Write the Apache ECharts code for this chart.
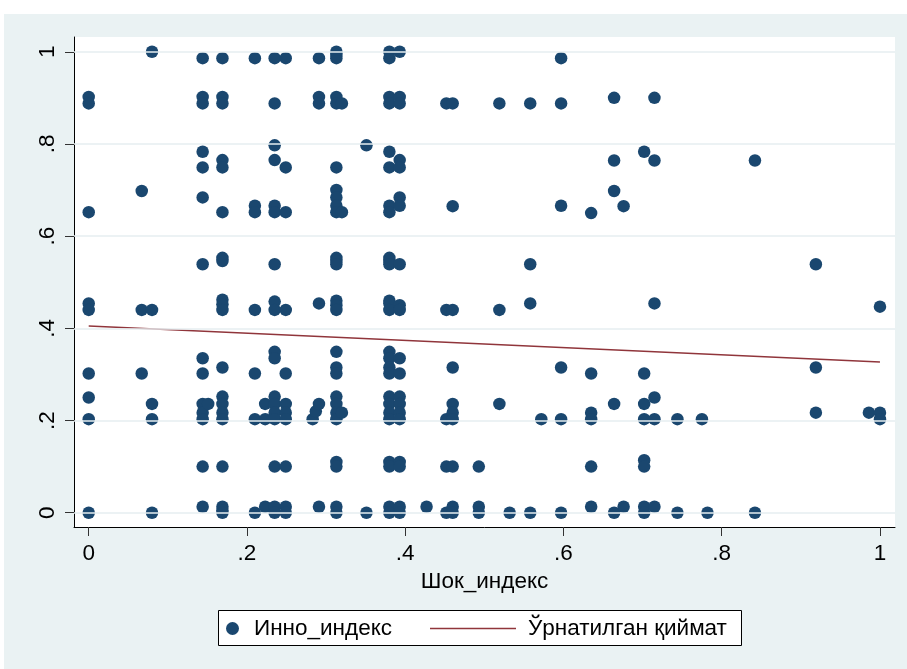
<!DOCTYPE html>
<html><head><meta charset="utf-8">
<script src="https://cdn.jsdelivr.net/npm/echarts@6/dist/echarts.min.js"></script>
<style>html,body{margin:0;padding:0;background:#fff}#c{width:907px;height:669px}</style>
</head><body><div id="c"></div>
<script>
// Шок_индекс column positions and the Инно_индекс values observed at each
const shockCols = [0, 0.067, 0.08, 0.144, 0.151, 0.169, 0.21, 0.223, 0.235, 0.249,
  0.283, 0.287, 0.291, 0.313, 0.32, 0.351, 0.38, 0.393, 0.427, 0.452, 0.46, 0.493,
  0.519, 0.532, 0.558, 0.572, 0.597, 0.635, 0.664, 0.676, 0.702, 0.715, 0.744,
  0.775, 0.782, 0.842, 0.919, 0.986, 1.0];
const innoByCol = [
  [0.902, 0.888, 0.652, 0.454, 0.44, 0.302, 0.25, 0.203, 0],
  [0.698, 0.44, 0.302],
  [1.0, 0.44, 0.236, 0.203, 0],
  [0.986, 0.902, 0.888, 0.783, 0.749, 0.684, 0.539, 0.335, 0.302, 0.236, 0.217, 0.203, 0.1, 0.013],
  [0.236],
  [0.986, 0.902, 0.888, 0.765, 0.749, 0.652, 0.553, 0.546, 0.462, 0.452, 0.44, 0.315, 0.252, 0.236, 0.217, 0.203, 0.1, 0.013, 0.005, 0],
  [0.986, 0.666, 0.652, 0.44, 0.302, 0.203, 0],
  [0.236, 0.203, 0.013],
  [0.986, 0.888, 0.797, 0.765, 0.666, 0.652, 0.539, 0.458, 0.44, 0.349, 0.335, 0.252, 0.236, 0.217, 0.203, 0.1, 0.013, 0],
  [0.986, 0.749, 0.652, 0.44, 0.302, 0.236, 0.217, 0.203, 0.1, 0.013, 0],
  [0.203],
  [0.22],
  [0.986, 0.902, 0.888, 0.454, 0.236, 0.013],
  [1.0, 0.993, 0.986, 0.902, 0.888, 0.749, 0.7, 0.684, 0.666, 0.652, 0.553, 0.546, 0.539, 0.46, 0.45, 0.44, 0.349, 0.315, 0.302, 0.252, 0.236, 0.217, 0.203, 0.11, 0.1, 0.013, 0],
  [0.888, 0.652, 0.217],
  [0.797, 0],
  [1.0, 0.986, 0.902, 0.888, 0.783, 0.749, 0.666, 0.652, 0.553, 0.546, 0.539, 0.46, 0.454, 0.44, 0.349, 0.335, 0.315, 0.302, 0.252, 0.236, 0.217, 0.203, 0.11, 0.1, 0.013, 0],
  [1.0, 0.902, 0.888, 0.765, 0.749, 0.684, 0.666, 0.539, 0.45, 0.44, 0.335, 0.302, 0.252, 0.236, 0.217, 0.203, 0.11, 0.1, 0.013, 0],
  [0.013],
  [0.888, 0.44, 0.203, 0.1, 0],
  [0.888, 0.665, 0.44, 0.315, 0.236, 0.217, 0.203, 0.1, 0.013, 0],
  [0.1, 0.013, 0],
  [0.888, 0.44, 0.236],
  [0],
  [0.888, 0.539, 0.454, 0],
  [0.203],
  [0.986, 0.888, 0.666, 0.315, 0.203, 0],
  [0.65, 0.302, 0.217, 0.203, 0.1, 0.013],
  [0.9, 0.764, 0.698, 0.236, 0],
  [0.665, 0.013],
  [0.783, 0.302, 0.236, 0.203, 0.114, 0.1, 0.013, 0],
  [0.9, 0.764, 0.454, 0.25, 0.203, 0.013],
  [0.203, 0],
  [0.203],
  [0],
  [0.764, 0],
  [0.539, 0.315, 0.217],
  [0.217],
  [0.447, 0.217, 0.203]
];
// fitted line end points
const fitX = [0, 1];
const fitY = [0.405, 0.327];
// axis ticks
const xTicks = [0, 0.2, 0.4, 0.6, 0.8, 1];
const xTickLabels = ['0', '.2', '.4', '.6', '.8', '1'];
const yTicks = [0, 0.2, 0.4, 0.6, 0.8, 1];
const yTickLabels = ['0', '.2', '.4', '.6', '.8', '1'];
const seriesNames = ['Инно_индекс', 'Ўрнатилган қиймат'];
const xTitle = 'Шок_индекс';

const points = [];
shockCols.forEach((x, i) => innoByCol[i].forEach(y => points.push([x, y])));
const fitData = fitX.map((x, i) => [x, fitY[i]]);

const FONT = "'Liberation Sans', Arial, sans-serif";
const FS = 22.5;
const BG = '#EAF2F3';
const fmt = (ticks, labels) => v => {
  const i = ticks.findIndex(t => Math.abs(t - v) < 1e-9);
  return i >= 0 ? labels[i] : '';
};

const chart = echarts.init(document.getElementById('c'), null, {renderer: 'canvas'});
chart.setOption({
  backgroundColor: '#ffffff',
  animation: false,
  graphic: [
    {type: 'rect', z: -10, shape: {x: 4, y: 14, width: 903, height: 655}, style: {fill: BG}},
    {type: 'rect', z: -9, shape: {x: 74, y: 37, width: 821, height: 490}, style: {fill: '#ffffff'}},
    {type: 'rect', z: -8, shape: {x: 218.5, y: 610.5, width: 523, height: 35}, style: {fill: '#ffffff', stroke: '#000000', lineWidth: 1}}
  ],
  grid: {left: 74, top: 37, right: 12, bottom: 142, containLabel: false},
  xAxis: {
    type: 'value', min: -0.0186, max: 1.019,
    axisLine: {show: true, onZero: false, lineStyle: {color: '#000', width: 1}},
    axisTick: {show: true, customValues: xTicks, length: 9, lineStyle: {color: '#333', width: 1}},
    axisLabel: {customValues: xTicks, formatter: fmt(xTicks, xTickLabels), margin: 15,
      fontFamily: FONT, fontSize: FS, color: '#000'},
    splitLine: {show: false},
    name: xTitle, nameLocation: 'middle', nameGap: 40,
    nameTextStyle: {fontFamily: FONT, fontSize: FS, color: '#000'}
  },
  yAxis: {
    type: 'value', min: -0.031, max: 1.032,
    axisLine: {show: true, onZero: false, lineStyle: {color: '#000', width: 1}},
    axisTick: {show: true, customValues: yTicks, length: 9, lineStyle: {color: '#333', width: 1}},
    axisLabel: {customValues: yTicks, formatter: fmt(yTicks, yTickLabels), rotate: 90, margin: 15,
      fontFamily: FONT, fontSize: FS, color: '#000'},
    splitLine: {show: false}
  },
  legend: [
    {data: [{name: seriesNames[0], icon: 'circle'}], left: 226, top: 617, itemWidth: 13, itemHeight: 13, padding: 0,
      textStyle: {fontFamily: FONT, fontSize: FS, color: '#000', padding: [0, 0, 0, 10]}},
    {data: [{name: seriesNames[1], icon: 'rect'}], left: 430, top: 617, itemWidth: 86, itemHeight: 1.6, padding: 0,
      itemStyle: {color: '#90353B'},
      textStyle: {fontFamily: FONT, fontSize: FS, color: '#000', padding: [0, 0, 0, 7]}}
  ],
  series: [
    {
      type: 'scatter', name: '_grid', data: [], silent: true, z: 1,
      markLine: {silent: true, symbol: ['none', 'none'], label: {show: false},
        lineStyle: {color: '#E6EEF1', width: 1.5, type: 'solid'},
        data: yTicks.map(v => ({yAxis: v}))}
    },
    {
      type: 'scatter', name: seriesNames[0], data: points, symbol: 'circle', symbolSize: 12.5, z: 3,
      itemStyle: {color: '#1A476F', opacity: 1}
    },
    {
      type: 'line', name: seriesNames[1], data: fitData, showSymbol: false, symbol: 'none', z: 4,
      lineStyle: {color: '#90353B', width: 1.6}, itemStyle: {color: '#90353B'}
    }
  ]
});
</script></body></html>
